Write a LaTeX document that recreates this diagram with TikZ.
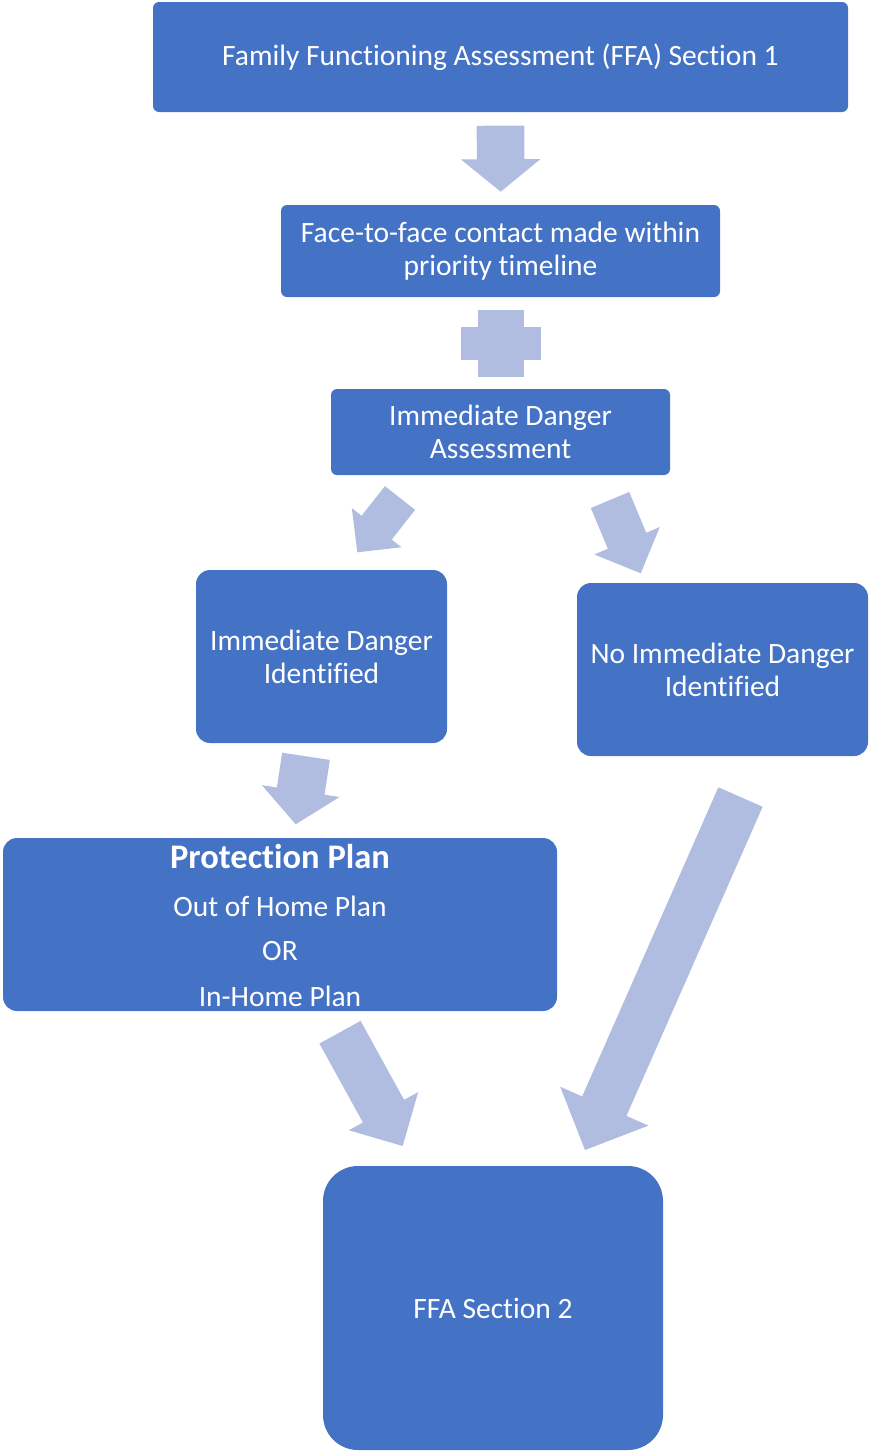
\documentclass[tikz,border=0pt]{standalone}
\usepackage{fontspec}
\setmainfont{Carlito}[Ligatures=NoCommon]
\usetikzlibrary{calc}
\definecolor{boxblue}{HTML}{4472C4}
\definecolor{arrowblue}{HTML}{B0BDE0}
\tikzset{
  box/.style={fill=boxblue, draw=none, text=white, align=center,
    font=\fontsize{29.5}{33}\selectfont, inner sep=0pt},
  label/.style={text=white, inner sep=0pt, font=\fontsize{29.5}{33}\selectfont},
  arrowfill/.style={fill=arrowblue, draw=none}
}
% block arrow: #1 tail centre, #2 tip, #3 shaft half-width, #4 head half-width, #5 head length
\newcommand\blockarrow[5]{%
  \coordinate (ah) at ($(#2)!#5!(#1)$);
  \fill[arrowfill] ($(#1)!#3!90:(#2)$) -- ($(ah)!#3!90:(#2)$) -- ($(ah)!#4!90:(#2)$)
    -- (#2) -- ($(ah)!#4!-90:(#2)$) -- ($(ah)!#3!-90:(#2)$) -- ($(#1)!#3!-90:(#2)$) -- cycle;
}
\begin{document}
\begin{tikzpicture}[x=1pt,y=-1pt]
\useasboundingbox (0,0) rectangle (869,1451);

% boxes
\node[box, rounded corners=6pt, minimum width=695pt, minimum height=110pt] (ffa1) at (500.5,57)
  {Family Functioning Assessment (FFA) Section 1};
\node[box, rounded corners=6pt, minimum width=439pt, minimum height=92pt] (contact) at (500.5,251)
  {Face-to-face contact made within\\priority timeline};
\node[box, rounded corners=6pt, minimum width=339pt, minimum height=86pt] (ida) at (500.5,432)
  {Immediate Danger\\Assessment};
\node[box, rounded corners=14pt, minimum width=251pt, minimum height=173pt] (idi) at (321.5,656.5)
  {Immediate Danger\\Identified};
\node[box, rounded corners=14pt, minimum width=291pt, minimum height=173pt] (nidi) at (722.5,669.5)
  {No Immediate Danger\\Identified};
\node[box, rounded corners=14pt, minimum width=554pt, minimum height=173pt] (pp) at (280,924.5) {};
\node[label, font=\fontsize{34.5}{38}\selectfont\bfseries] (pptitle) at (280,857) {Protection Plan};
\node[label] (ppout) at (280,906) {Out of Home Plan};
\node[label] (ppor) at (280,951) {OR};
\node[label] (ppin) at (280,996) {In-Home Plan};
\node[box, rounded corners=35pt, minimum width=340pt, minimum height=284pt] (ffa2) at (493,1308)
  {FFA Section 2};

% plus sign between contact and danger assessment
\fill[arrowfill] (478,310) rectangle (524,377);
\fill[arrowfill] (461,327) rectangle (541,360);

% block arrows
\coordinate (a1t) at (500.5,125.7); \coordinate (a1h) at (500.7,191.7);
\blockarrow{a1t}{a1h}{23.8pt}{39.7pt}{32.4pt}
\coordinate (a2t) at (400,498); \coordinate (a2h) at (357.3,552.3);
\blockarrow{a2t}{a2h}{19.2pt}{31.6pt}{31.3pt}
\coordinate (a3t) at (610,500); \coordinate (a3h) at (640.7,573.3);
\blockarrow{a3t}{a3h}{20.8pt}{35.5pt}{35.3pt}
\coordinate (a4t) at (306,756.3); \coordinate (a4h) at (295.7,824.3);
\blockarrow{a4t}{a4h}{24.1pt}{39.3pt}{33.6pt}
\coordinate (a5t) at (340,1032.2); \coordinate (a5h) at (402.7,1146);
\blockarrow{a5t}{a5h}{23.5pt}{39.6pt}{39.8pt}
\coordinate (a6t) at (740.5,797); \coordinate (a6h) at (585,1150);
\blockarrow{a6t}{a6h}{24.2pt}{48.2pt}{47.9pt}
\end{tikzpicture}
\end{document}
